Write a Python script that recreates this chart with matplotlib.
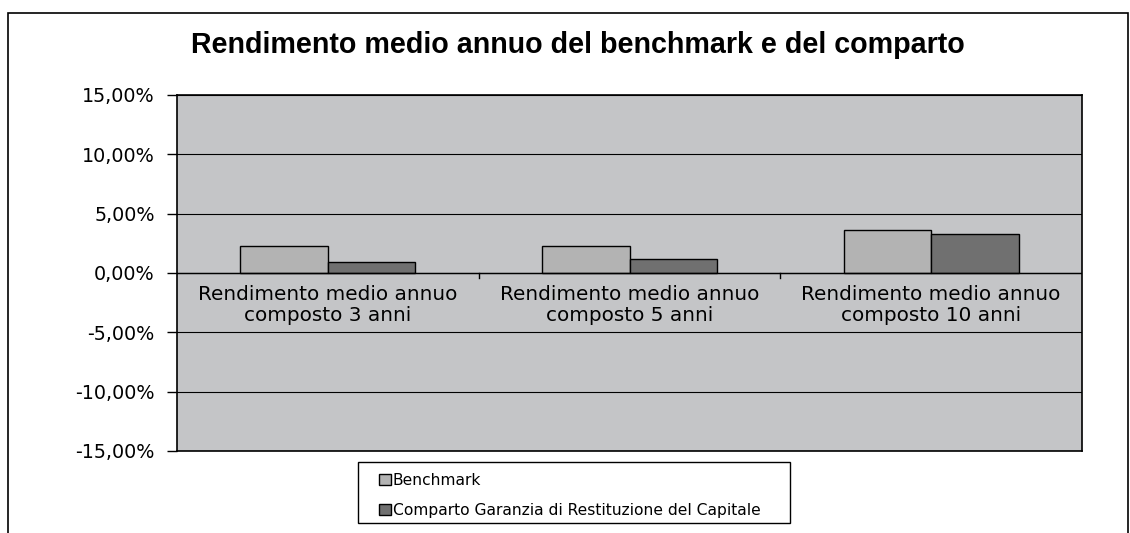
import matplotlib
matplotlib.use("Agg")
import matplotlib.pyplot as plt
import numpy as np
from matplotlib.patches import Rectangle, Patch
from matplotlib.font_manager import FontProperties

plt.rcParams["font.family"] = ["DejaVu Sans"]

categories = ["Rendimento medio annuo\ncomposto 3 anni",
              "Rendimento medio annuo\ncomposto 5 anni",
              "Rendimento medio annuo\ncomposto 10 anni"]
benchmark = [2.27, 2.25, 3.62]
comparto = [0.95, 1.18, 3.28]
series_names = ["Benchmark", "Comparto Garanzia di Restituzione del Capitale"]
yticks = [-15, -10, -5, 0, 5, 10, 15]
ytick_labels = ["-15,00%", "-10,00%", "-5,00%", "0,00%", "5,00%", "10,00%", "15,00%"]
title = "Rendimento medio annuo del benchmark e del comparto"

W, H = 1130, 533
fig = plt.figure(figsize=(W / 100, H / 100), dpi=100)

fp_tick = FontProperties(family=["DejaVu Sans"], size=13.8)
fp_cat = FontProperties(family=["DejaVu Sans"], size=14.4)
fp_title = FontProperties(family=["Liberation Sans", "DejaVu Sans"], weight="bold", size=20.6)
fp_leg = FontProperties(family=["DejaVu Sans"], size=11.2)

# outer chart border
fig.patches.append(Rectangle((8 / W, -0.05), 1120 / W, 1.05 - 13 / H,
                             transform=fig.transFigure, fill=False,
                             edgecolor="black", linewidth=1.2))

ax = fig.add_axes([177 / W, 1 - 451 / H, 905 / W, 356 / H])
ax.set_facecolor("#c4c5c7")
x = np.arange(len(categories))
bw = 0.29
ax.bar(x - bw / 2, benchmark, bw, color="#b3b3b3", edgecolor="black", linewidth=1.0,
       zorder=3, label=series_names[0])
ax.bar(x + bw / 2, comparto, bw, color="#707070", edgecolor="black", linewidth=1.0,
       zorder=3, label=series_names[1])

ax.set_xlim(-0.5, len(categories) - 0.5)
ax.set_ylim(-15, 15)
ax.set_yticks(yticks)
ax.set_yticklabels(ytick_labels)
for t in ax.get_yticklabels():
    t.set_fontproperties(fp_tick)
ax.tick_params(axis="y", length=7, width=1, pad=9)
ax.yaxis.grid(True, color="black", linewidth=0.8, zorder=1)
ax.set_xticks([])
ax.axhline(0, color="black", linewidth=1.0, zorder=4)

# category boundary ticks on the zero line
for b in np.arange(0.5, len(categories) - 0.5, 1):
    ax.plot([b, b], [0, -0.45], color="black", linewidth=1, zorder=4)

for xi, lab in zip(x, categories):
    ax.text(xi, -1.05, lab, ha="center", va="top", fontproperties=fp_cat,
            linespacing=1.1, zorder=5)

for s in ax.spines.values():
    s.set_linewidth(1.2)
    s.set_color("black")

fig.text(578 / W, 1 - 45 / H, title, ha="center", va="center",
         fontproperties=fp_title)

# legend frame
fig.patches.append(Rectangle((358 / W, 1 - 523 / H), 432 / W, 61 / H,
                             transform=fig.transFigure, facecolor="white",
                             edgecolor="black", linewidth=1.0))
handles = [Patch(facecolor="#b3b3b3", edgecolor="black", linewidth=1.0),
           Patch(facecolor="#707070", edgecolor="black", linewidth=1.0)]
leg = fig.legend(handles, series_names, loc="center left",
                 bbox_to_anchor=(379 / W, 1 - 495.5 / H),
                 frameon=False,
                 handlelength=0.75, handleheight=0.75,
                 handletextpad=0.15, labelspacing=0.95, borderaxespad=0,
                 borderpad=0, prop=fp_leg)

fig.savefig("out.png", dpi=100, facecolor="white")
